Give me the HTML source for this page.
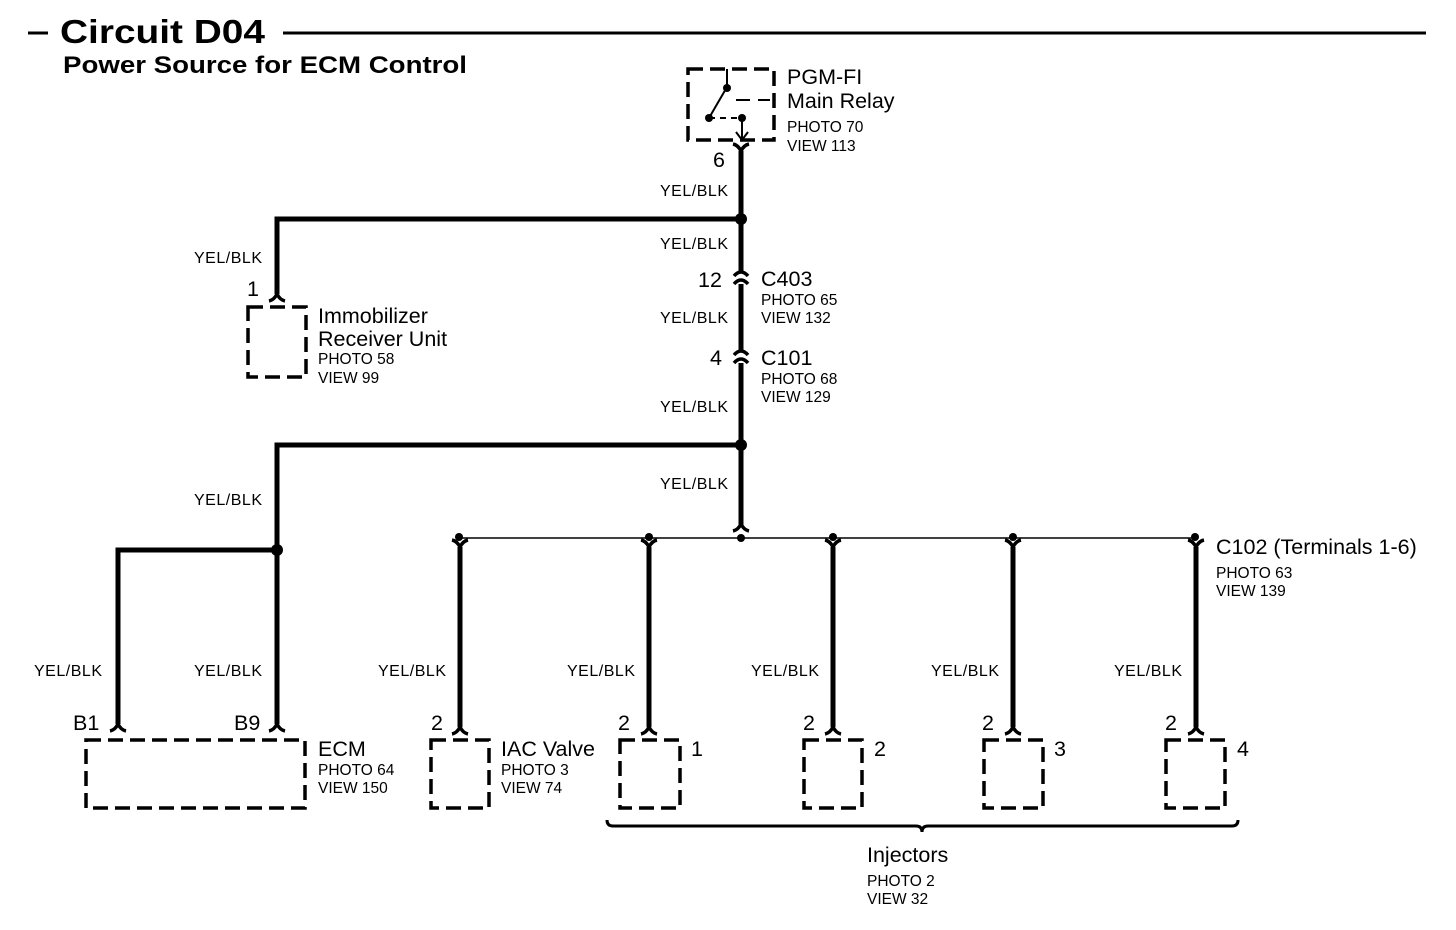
<!DOCTYPE html>
<html><head><meta charset="utf-8"><style>
html,body{margin:0;padding:0;background:#fff;}
svg{display:block;}
text{font-family:"Liberation Sans",sans-serif;fill:#000;}
.l{font-size:21.5px;}
.s{font-size:15.5px;}
.w{font-size:16px;}
</style></head><body>
<svg width="1456" height="930" viewBox="0 0 1456 930" xmlns="http://www.w3.org/2000/svg">
<defs>
<path id="fd" d="M-8,7 Q-3,6 0,0 Q3,6 8,7" fill="none" stroke="#000" stroke-width="3.5"/>
<path id="fu" d="M-8,-7 Q-3,-6 0,0 Q3,-6 8,-7" fill="none" stroke="#000" stroke-width="3.5"/>
<path id="ca" d="M-7,4 Q0,-4 7,4" fill="none" stroke="#000" stroke-width="3.5"/>
</defs>
<!-- title -->
<line x1="28" y1="33" x2="48" y2="33" stroke="#000" stroke-width="3"/>
<text x="60" y="43" style="font-size:33px;font-weight:bold" textLength="205" lengthAdjust="spacingAndGlyphs">Circuit D04</text>
<line x1="283" y1="33" x2="1426" y2="33" stroke="#000" stroke-width="3"/>
<text x="63" y="73" style="font-size:24px;font-weight:bold" textLength="404" lengthAdjust="spacingAndGlyphs">Power Source for ECM Control</text>

<g fill="none" stroke="#000" stroke-width="3.5" stroke-dasharray="15,7">
<rect x="688" y="69" width="86" height="71"/>
<rect x="248" y="307" width="58" height="70"/>
<rect x="86" y="740" width="219" height="68"/>
<rect x="431" y="740" width="58" height="68"/>
<rect x="620" y="740" width="60" height="68"/>
<rect x="804" y="740" width="58" height="68"/>
<rect x="984" y="740" width="59" height="68"/>
<rect x="1166" y="740" width="59" height="68"/>
</g>
<!-- relay internals -->
<g stroke="#000" stroke-width="2" fill="none">
<line x1="727" y1="69" x2="727" y2="87"/>
<line x1="727" y1="87" x2="709" y2="118"/>
<line x1="736" y1="100" x2="770" y2="100" stroke-dasharray="14,8"/>
<line x1="709" y1="118" x2="742" y2="118" stroke-dasharray="6,5"/>
<line x1="742" y1="118" x2="742" y2="140"/>
<path d="M736,132 L742,140 L748,132"/>
</g>
<circle cx="727" cy="88" r="4"/><circle cx="709" cy="118" r="4"/><circle cx="742" cy="118" r="4"/>

<!-- thick wires -->
<g stroke="#000" stroke-width="5" fill="none">
<line x1="741" y1="151" x2="741" y2="525"/>
<polyline points="741,219 277,219 277,294"/>
<polyline points="741,445 277,445 277,724"/>
<polyline points="277,550 118,550 118,724"/>
<line x1="460" y1="547" x2="460" y2="727"/>
<line x1="649" y1="547" x2="649" y2="727"/>
<line x1="833" y1="547" x2="833" y2="727"/>
<line x1="1013" y1="547" x2="1013" y2="727"/>
<line x1="1196" y1="547" x2="1196" y2="727"/>
</g>
<rect x="736" y="272" width="10" height="12" fill="#fff"/>
<rect x="736" y="351" width="10" height="12" fill="#fff"/>
<use href="#ca" x="741" y="272"/><use href="#ca" x="741" y="280"/>
<use href="#ca" x="741" y="351"/><use href="#ca" x="741" y="359"/>
<use href="#fu" x="741" y="151"/>
<use href="#fd" x="277" y="294"/>
<use href="#fd" x="118" y="724"/><use href="#fd" x="277" y="724"/>
<use href="#fd" x="741" y="524"/>
<use href="#fd" x="460" y="727"/><use href="#fd" x="649" y="727"/><use href="#fd" x="833" y="727"/><use href="#fd" x="1013" y="727"/><use href="#fd" x="1196" y="727"/>
<g><use href="#fu" x="460" y="547"/><use href="#fu" x="649" y="547"/><use href="#fu" x="833" y="547"/><use href="#fu" x="1013" y="547"/><use href="#fu" x="1196" y="547"/></g>
<line x1="459" y1="538" x2="1195" y2="538" stroke="#000" stroke-width="1.5"/>
<g>
<circle cx="741" cy="219" r="6"/><circle cx="741" cy="445" r="6"/><circle cx="277" cy="550" r="6"/>
<circle cx="459" cy="537" r="4"/><circle cx="649" cy="537" r="4"/><circle cx="741" cy="538" r="4"/><circle cx="833" cy="537" r="4"/><circle cx="1013" cy="537" r="4"/><circle cx="1195" cy="537" r="4"/>
</g>
<!-- brace -->
<path d="M607,820 Q607,826 613,826 L916,826 Q922,826 922,832 Q922,826 928,826 L1232,826 Q1238,826 1238,820" fill="none" stroke="#000" stroke-width="3"/>

<!-- labels -->
<text class="l" x="787" y="84">PGM-FI</text>
<text class="l" x="787" y="108">Main Relay</text>
<text class="s" x="787" y="132">PHOTO 70</text>
<text class="s" x="787" y="151">VIEW 113</text>
<text class="l" x="713" y="167">6</text>
<g class="w">
<text x="660" y="196" textLength="68">YEL/BLK</text>
<text x="660" y="249" textLength="68">YEL/BLK</text>
<text x="194" y="263" textLength="68">YEL/BLK</text>
<text x="660" y="323" textLength="68">YEL/BLK</text>
<text x="660" y="412" textLength="68">YEL/BLK</text>
<text x="660" y="489" textLength="68">YEL/BLK</text>
<text x="194" y="505" textLength="68">YEL/BLK</text>
<text x="34" y="676" textLength="68">YEL/BLK</text>
<text x="194" y="676" textLength="68">YEL/BLK</text>
<text x="378" y="676" textLength="68">YEL/BLK</text>
<text x="567" y="676" textLength="68">YEL/BLK</text>
<text x="751" y="676" textLength="68">YEL/BLK</text>
<text x="931" y="676" textLength="68">YEL/BLK</text>
<text x="1114" y="676" textLength="68">YEL/BLK</text>
</g>
<text class="l" x="698" y="287">12</text>
<text class="l" x="761" y="286">C403</text>
<text class="s" x="761" y="305">PHOTO 65</text>
<text class="s" x="761" y="323">VIEW 132</text>
<text class="l" x="247" y="296">1</text>
<text class="l" x="318" y="323">Immobilizer</text>
<text class="l" x="318" y="346">Receiver Unit</text>
<text class="s" x="318" y="364">PHOTO 58</text>
<text class="s" x="318" y="383">VIEW 99</text>
<text class="l" x="710" y="365">4</text>
<text class="l" x="761" y="365">C101</text>
<text class="s" x="761" y="384">PHOTO 68</text>
<text class="s" x="761" y="402">VIEW 129</text>
<text class="l" x="1216" y="554">C102 (Terminals 1-6)</text>
<text class="s" x="1216" y="578">PHOTO 63</text>
<text class="s" x="1216" y="596">VIEW 139</text>
<text class="l" x="73" y="730">B1</text>
<text class="l" x="234" y="730">B9</text>
<text class="l" x="431" y="730">2</text>
<text class="l" x="618" y="730">2</text>
<text class="l" x="803" y="730">2</text>
<text class="l" x="982" y="730">2</text>
<text class="l" x="1165" y="730">2</text>
<text class="l" x="318" y="756">ECM</text>
<text class="s" x="318" y="775">PHOTO 64</text>
<text class="s" x="318" y="793">VIEW 150</text>
<text class="l" x="501" y="756">IAC Valve</text>
<text class="s" x="501" y="775">PHOTO 3</text>
<text class="s" x="501" y="793">VIEW 74</text>
<text class="l" x="691" y="756">1</text>
<text class="l" x="874" y="756">2</text>
<text class="l" x="1054" y="756">3</text>
<text class="l" x="1237" y="756">4</text>
<text class="l" x="867" y="862">Injectors</text>
<text class="s" x="867" y="886">PHOTO 2</text>
<text class="s" x="867" y="904">VIEW 32</text>
</svg>
</body></html>
